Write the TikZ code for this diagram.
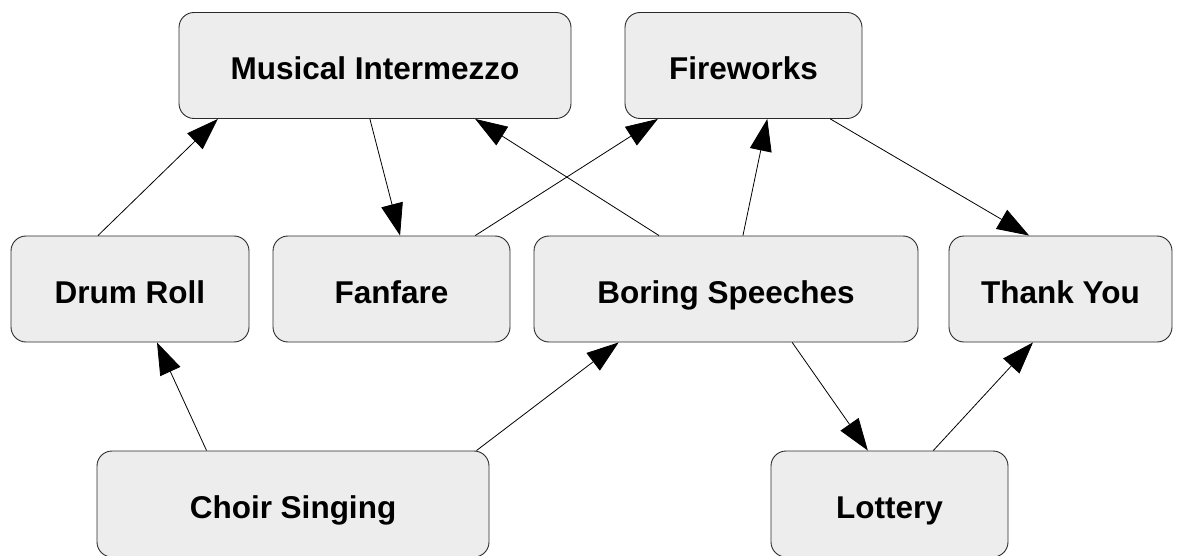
\documentclass[tikz,border=0pt]{standalone}
\usepackage{fontspec}
\setmainfont{Liberation Sans}
\usetikzlibrary{arrows.meta,calc}
\definecolor{boxfill}{HTML}{EDEDED}
\definecolor{boxline}{HTML}{2A2A2A}
\tikzset{
  box/.style={draw=boxline, line width=0.9pt, fill=boxfill, rounded corners=15pt,
    inner sep=0pt, minimum height=106pt, text height=28pt, text depth=0pt,
    font=\fontsize{31.5}{36}\selectfont\bfseries},
  conn/.style={draw=black, line width=0.8pt, -{Triangle[length=32pt,width=22pt]}}
}
\begin{document}
\begin{tikzpicture}[x=1pt,y=-1pt]
\useasboundingbox (0,0) rectangle (1183,556);
\node[box, minimum width=392pt] (mi) at (375,65.5) {Musical Intermezzo};
\node[box, minimum width=237pt] (fw) at (743.5,65.5) {Fireworks};
\node[box, minimum width=238pt] (dr) at (130,289) {Drum Roll};
\node[box, minimum width=237pt] (ff) at (391.5,289) {Fanfare};
\node[box, minimum width=384pt] (bs) at (726,289) {Boring Speeches};
\node[box, minimum width=223pt] (ty) at (1060.5,289) {Thank You};
\node[box, minimum width=392pt] (cs) at (293,504) {Choir Singing};
\node[box, minimum width=237pt] (lo) at (889.5,504) {Lottery};
% edges
\draw[conn] ($(dr.north west)!0.366!(dr.north east)$) -- ($(mi.south west)!0.10!(mi.south east)$);
\draw[conn] ($(mi.south west)!0.487!(mi.south east)$) -- ($(ff.north west)!0.536!(ff.north east)$);
\draw[conn] ($(bs.north west)!0.326!(bs.north east)$) -- ($(mi.south west)!0.755!(mi.south east)$);
\draw[conn] ($(ff.north west)!0.852!(ff.north east)$) -- ($(fw.south west)!0.14!(fw.south east)$);
\draw[conn] ($(bs.north west)!0.544!(bs.north east)$) -- ($(fw.south west)!0.60!(fw.south east)$);
\draw[conn] ($(fw.south west)!0.865!(fw.south east)$) -- ($(ty.north west)!0.36!(ty.north east)$);
\draw[conn] ($(cs.north west)!0.28!(cs.north east)$) -- ($(dr.south west)!0.613!(dr.south east)$);
\draw[conn] ($(cs.north west)!0.967!(cs.north east)$) -- ($(bs.south west)!0.221!(bs.south east)$);
\draw[conn] ($(bs.south west)!0.672!(bs.south east)$) -- ($(lo.north west)!0.409!(lo.north east)$);
\draw[conn] ($(lo.north west)!0.684!(lo.north east)$) -- ($(ty.south west)!0.377!(ty.south east)$);
\end{tikzpicture}
\end{document}
